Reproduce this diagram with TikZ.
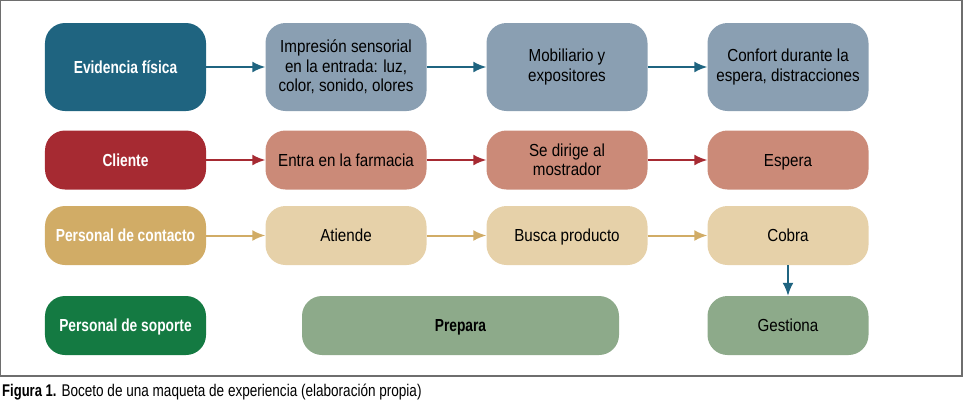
\documentclass[tikz,border=0pt]{standalone}
\usepackage{fontspec}
\setmainfont[FakeStretch=0.87,BoldFeatures={FakeStretch=0.79}]{Liberation Sans}
\newfontfamily\capfont[FakeStretch=0.8,BoldFeatures={FakeStretch=0.77}]{Liberation Sans}
\usetikzlibrary{arrows.meta}
\definecolor{cBlueD}{HTML}{1F6480}
\definecolor{cBlueL}{HTML}{8A9FB2}
\definecolor{cRedD}{HTML}{A62A32}
\definecolor{cRedL}{HTML}{CB8A78}
\definecolor{cGoldD}{HTML}{D1AC66}
\definecolor{cGoldL}{HTML}{E6D1A9}
\definecolor{cGreenD}{HTML}{147A42}
\definecolor{cGreenL}{HTML}{8DAA8A}
\definecolor{cFrame}{HTML}{6E6E6E}
\tikzset{
  box/.style={rounded corners=20bp, minimum width=161bp, inner sep=2bp, align=center,
    font=\fontsize{17.5}{19.5}\selectfont, text=black},
  hbox/.style={box, minimum height=88bp},
  sbox/.style={box, minimum height=59bp},
  one/.style={text depth=0pt},
  lead/.style={text=white, font=\fontsize{17.5}{19.5}\selectfont\bfseries},
  conn/.style={line width=2bp, -{Latex[length=13bp,width=11bp]}},
}
\begin{document}
\begin{tikzpicture}[x=1bp,y=-1bp]
\useasboundingbox (0,0) rectangle (963,418);
\draw[cFrame, line width=1.2bp] (0.6,0.6) rectangle (962,376);
% row 1
\node[hbox, one, fill=cBlueD, lead] (ev) at (125.5,67) {Evidencia física};
\node[hbox, fill=cBlueL] (imp) at (346,67) {Impresión sensorial\\en la entrada: luz,\\color, sonido, olores};
\node[hbox, fill=cBlueL] (mob) at (567,67) {Mobiliario y\\expositores};
\node[hbox, fill=cBlueL] (conf) at (788,67) {Confort durante la\\espera, distracciones};
% row 2
\node[sbox, one, fill=cRedD, lead] (cli) at (125.5,160) {Cliente};
\node[sbox, one, fill=cRedL] (ent) at (346,160) {Entra en la farmacia};
\node[sbox, fill=cRedL] (dir) at (567,160) {Se dirige al\\mostrador};
\node[sbox, one, fill=cRedL] (esp) at (788,160) {Espera};
% row 3
\node[sbox, one, fill=cGoldD, lead] (pc) at (125.5,235.5) {Personal de contacto};
\node[sbox, one, fill=cGoldL] (at) at (346,235.5) {Atiende};
\node[sbox, one, fill=cGoldL] (bp) at (567,235.5) {Busca producto};
\node[sbox, one, fill=cGoldL] (cob) at (788,235.5) {Cobra};
% row 4
\node[sbox, one, fill=cGreenD, lead] (ps) at (125.5,325.5) {Personal de soporte};
\node[sbox, one, fill=cGreenL, minimum width=317bp, font=\fontsize{17.5}{19.5}\selectfont\bfseries] (prep) at (460.5,325.5) {Prepara};
\node[sbox, one, fill=cGreenL] (ges) at (788,325.5) {Gestiona};
% connectors
\draw[conn, cBlueD] (ev) -- (imp);
\draw[conn, cBlueD] (imp) -- (mob);
\draw[conn, cBlueD] (mob) -- (conf);
\draw[conn, cRedD] (cli) -- (ent);
\draw[conn, cRedD] (ent) -- (dir);
\draw[conn, cRedD] (dir) -- (esp);
\draw[conn, cGoldD] (pc) -- (at);
\draw[conn, cGoldD] (at) -- (bp);
\draw[conn, cGoldD] (bp) -- (cob);
\draw[conn, cBlueD] (cob) -- (ges);
% caption
\node[anchor=west, inner sep=0pt, font=\capfont\fontsize{17}{19}\selectfont] (cap) at (2,392) {\textbf{Figura 1.} Boceto de una maqueta de experiencia (elaboración propia)};
\end{tikzpicture}
\end{document}
